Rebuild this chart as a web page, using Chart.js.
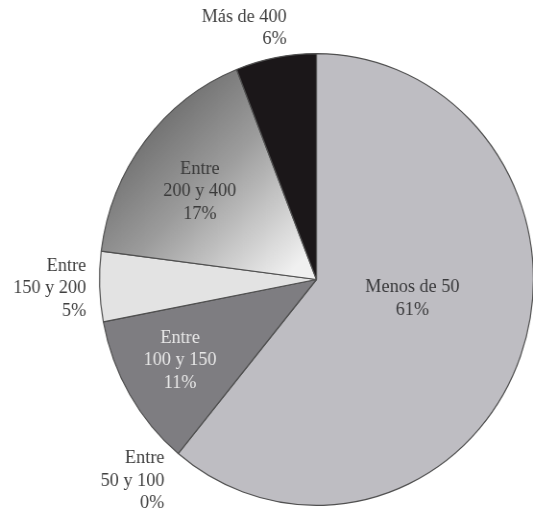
<!DOCTYPE html>
<html>
<head>
<meta charset="utf-8">
<script src="https://cdn.jsdelivr.net/npm/chart.js@4"></script>
<style>
  html, body { margin: 0; padding: 0; background: #fff; overflow: hidden; }
  #wrap { width: 533px; height: 509px; overflow: hidden; }
</style>
</head>
<body>
<div id="wrap">
  <!-- the scanned pie is a little narrower than tall, so the canvas is squeezed slightly -->
  <canvas id="pie" width="580" height="509" style="width:557px;height:509px"></canvas>
</div>
<script>
    // data
    var categories = [['Menos de 50'], ['Entre', '50 y 100'], ['Entre', '100 y 150'],
                      ['Entre', '150 y 200'], ['Entre', '200 y 400'], ['Más de 400']];
    var percents = [61, 0, 11, 5, 17, 6];

    // look
    var fills = ['#bebdc2', '#9a9a9a', '#7e7d81', '#e3e3e3', 'gradient', '#1b1719'];
    var lineH = 22.5;
    var labelPlace = [
      { rf: 0.47, dx: 0, dy: -17, align: 'center', color: '#3a3a3c' },
      { rf: 1.155, dx: 8, dy: 0, align: 'right', color: '#404040' },
      { rf: 0.73, dx: 0, dy: -3, align: 'center', color: '#e8e8e8' },
      { rf: 1.062, dx: 0, dy: 1, align: 'right', color: '#404040' },
      { rf: 0.68, dx: 0, dy: 6, align: 'center', color: '#3a3a3a' },
      { rf: 1.133, dx: 17, dy: 0, align: 'right', color: '#404040' }
    ];

    function sliceFill(c) {
      var base = fills[c.dataIndex];
      if (base !== 'gradient') return base;
      var area = c.chart.chartArea;
      if (!area) return '#999999';
      var cx = (area.left + area.right) / 2;
      var cy = (area.top + area.bottom) / 2;
      var R = Math.min(area.width, area.height) / 2;
      var g = c.chart.ctx.createLinearGradient(cx - 0.77 * R, cy - 0.79 * R, cx - 0.07 * R, cy - 0.08 * R);
      g.addColorStop(0, '#686868');
      g.addColorStop(0.45, '#9c9c9c');
      g.addColorStop(1, '#f0f0f0');
      return g;
    }

    var labelPlugin = {
      id: 'sliceLabels',
      afterDatasetsDraw: function (chart) {
        var ctx = chart.ctx;
        var meta = chart.getDatasetMeta(0);
        ctx.save();
        ctx.font = '19px "Liberation Serif", "DejaVu Serif", serif';
        ctx.textBaseline = 'middle';
        meta.data.forEach(function (arc, i) {
          var p = labelPlace[i];
          var mid = (arc.startAngle + arc.endAngle) / 2;
          var r = arc.outerRadius * p.rf;
          var x = arc.x + Math.cos(mid) * r + p.dx;
          var y = arc.y + Math.sin(mid) * r + p.dy;
          var lines = categories[i].concat([percents[i] + '%']);
          var top = y - (lines.length - 1) * lineH / 2;
          ctx.fillStyle = p.color;
          ctx.textAlign = p.align;
          lines.forEach(function (t, k) {
            ctx.fillText(t, x, top + k * lineH);
          });
        });
        ctx.restore();
      }
    };

    var pie = new Chart(document.getElementById('pie'), {
      type: 'pie',
      data: {
        labels: categories.map(function (c) { return c.join(' '); }),
        datasets: [{
          data: percents,
          backgroundColor: sliceFill,
          borderColor: '#505050',
          borderWidth: 1.2
        }]
      },
      options: {
        responsive: false,
        animation: false,
        events: [],
        layout: { padding: { left: 103, right: 24, top: 53, bottom: 3 } },
        plugins: {
          legend: { display: false },
          tooltip: { enabled: false }
        }
      },
      plugins: [labelPlugin]
    });
</script>
</body>
</html>
